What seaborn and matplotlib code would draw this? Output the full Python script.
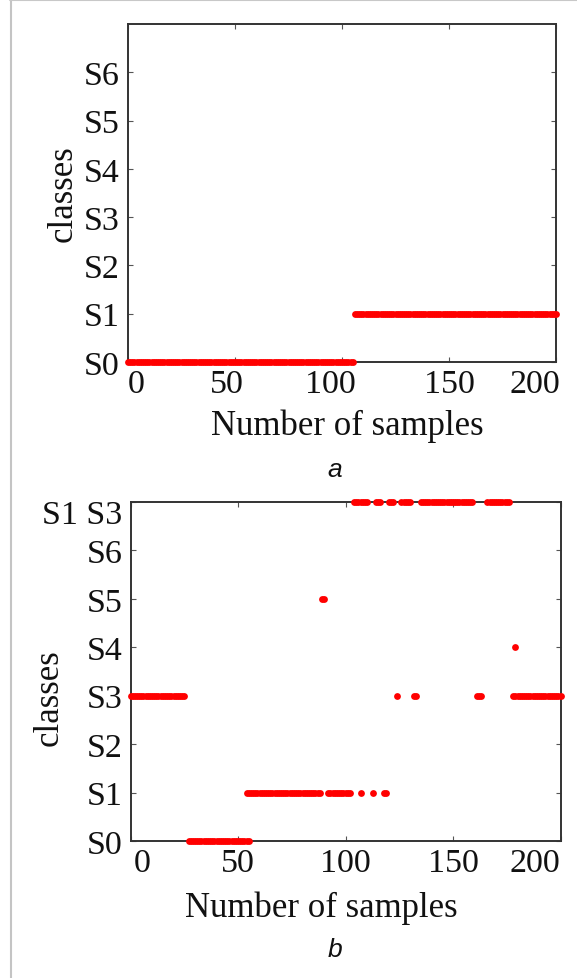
import numpy as np
import pandas as pd
import matplotlib
matplotlib.use("Agg")
import matplotlib.pyplot as plt
from matplotlib.lines import Line2D
from matplotlib.transforms import ScaledTranslation
import seaborn as sns

# ---------------- data (run-length: start sample, end sample, class row) ----------------
a_run_start = [0, 106]
a_run_end = [105, 200]
a_run_class = [0, 1]

b_run_start = [0, 124, 132, 161, 178, 27, 54, 92, 107, 113, 118, 89, 179, 104, 114, 120, 126, 135, 166]
b_run_end = [25, 124, 133, 163, 200, 55, 88, 102, 107, 113, 119, 90, 179, 110, 116, 122, 130, 159, 176]
b_run_class = [3, 3, 3, 3, 3, 0, 1, 1, 1, 1, 1, 5, 4, 7, 7, 7, 7, 7, 7]

x_ticks = [0, 50, 100, 150, 200]
x_tick_labels = ["0", "50", "100", "150", "200"]
a_y_ticks = [0, 1, 2, 3, 4, 5, 6]
a_y_labels = ["S0", "S1", "S2", "S3", "S4", "S5", "S6"]
b_y_ticks = [0, 1, 2, 3, 4, 5, 6, 7]
b_y_labels = ["S0", "S1", "S2", "S3", "S4", "S5", "S6", "S1 S3"]


def expand(starts, ends, classes):
    xs, ys = [], []
    for s, e, c in zip(starts, ends, classes):
        for v in range(s, e + 1):
            xs.append(v)
            ys.append(c)
    return pd.DataFrame({"sample": xs, "cls": ys})


df_a = expand(a_run_start, a_run_end, a_run_class)
df_b = expand(b_run_start, b_run_end, b_run_class)

# ---------------- style ----------------
sns.set_style("white")
plt.rcParams["font.family"] = ["Liberation Serif", "DejaVu Serif"]

W, H = 577, 979
DPI = 100
fig = plt.figure(figsize=(W / DPI, H / DPI), dpi=DPI)
fig.patch.set_facecolor("white")


def px_axes(left, top, right, bottom):
    return fig.add_axes([left / W, 1 - bottom / H, (right - left) / W, (bottom - top) / H])


ax_a = px_axes(128, 25, 556, 363)
ax_b = px_axes(130.5, 503, 560.5, 842)

TICK_FS = 24.5
LABEL_FS = 25


def style_axes(ax, yticks, ylabels):
    ax.set_xlim(0, 200)
    ax.set_ylim(0, 7)
    ax.set_xticks(x_ticks)
    ax.set_xticklabels(x_tick_labels, fontsize=TICK_FS)
    ax.set_yticks(yticks)
    ax.set_yticklabels(ylabels, fontsize=TICK_FS)
    ax.tick_params(axis="both", which="major", direction="in", length=3.5, width=0.8,
                   color="#555555", top=True, right=True, bottom=True, left=True,
                   labelcolor="#111111")
    ax.tick_params(axis="x", pad=5)
    ax.tick_params(axis="y", pad=6)
    for sp in ax.spines.values():
        sp.set_visible(True)
        sp.set_color("#333333")
        sp.set_linewidth(1.4)
        sp.set_zorder(2)
    ax.set_facecolor("white")
    ax.grid(False)


for ax, df in ((ax_a, df_a), (ax_b, df_b)):
    sns.scatterplot(data=df, x="sample", y="cls", ax=ax, color="#ff0000", s=24,
                    linewidth=0, marker="o", zorder=3, clip_on=False, legend=False)

style_axes(ax_a, a_y_ticks, a_y_labels)
style_axes(ax_b, b_y_ticks, b_y_labels)

# axis labels
for ax, (xl_x, xl_y), (yl_x, yl_y) in (
    (ax_a, (0.512, -0.138), (-0.112, 0.5)),
    (ax_b, (0.443, -0.146), (-0.152, 0.425)),
):
    ax.set_xlabel("Number of samples", fontsize=LABEL_FS, color="#111111")
    ax.set_ylabel("classes", fontsize=LABEL_FS, color="#111111")
    ax.xaxis.set_label_coords(xl_x, xl_y)
    ax.yaxis.set_label_coords(yl_x, yl_y)


def shift(label, dx_px, dy_px):
    label.set_transform(label.get_transform() +
                        ScaledTranslation(dx_px / DPI, dy_px / DPI, fig.dpi_scale_trans))


# end labels kept inside the box
for ax in (ax_a, ax_b):
    xl = ax.get_xticklabels()
    xl[0].set_ha("left")
    xl[-1].set_ha("right")

xa = ax_a.get_xticklabels()
shift(xa[1], -8, 0)
shift(xa[2], -12, 0)
shift(xa[-1], 4, 0)
xb = ax_b.get_xticklabels()
shift(xb[0], 3, 0)
yb = ax_b.get_yticklabels()
shift(yb[-1], 0, -9)

# panel captions
fig.text(335 / W, 1 - 477 / H, "a", fontsize=19, style="italic",
         family=["Liberation Sans", "DejaVu Sans"], ha="center", va="baseline", color="#111111")
fig.text(335 / W, 1 - 957 / H, "b", fontsize=19, style="italic",
         family=["Liberation Sans", "DejaVu Sans"], ha="center", va="baseline", color="#111111")

# light frame lines of the original image
fig.add_artist(Line2D([10.8 / W, 10.8 / W], [0, 1], transform=fig.transFigure,
                      color="#c4c4c4", lw=1.5))
fig.add_artist(Line2D([10 / W, 1], [1 - 1.0 / H, 1 - 1.0 / H], transform=fig.transFigure,
                      color="#c8c8c8", lw=1.5))

fig.savefig("out.png", dpi=DPI, facecolor="white")
